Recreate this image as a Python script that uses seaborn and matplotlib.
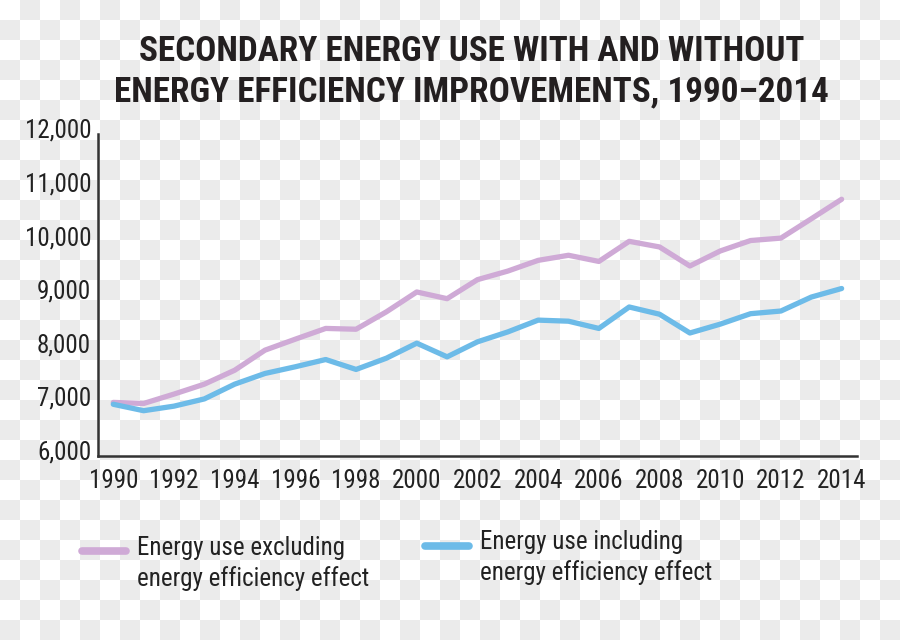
import numpy as np
import pandas as pd
import matplotlib
matplotlib.use("Agg")
import matplotlib.pyplot as plt
import matplotlib.transforms as mtransforms
from matplotlib import font_manager as fm
from matplotlib.legend_handler import HandlerLine2D
from matplotlib.ticker import FuncFormatter
import seaborn as sns

years = list(range(1990, 2015))
excluding = [7000, 6980, 7155, 7340, 7600, 7975, 8180, 8380, 8365, 8690,
             9060, 8935, 9290, 9450, 9650, 9745, 9630, 10005, 9900, 9545,
             9825, 10020, 10065, 10425, 10790]
including = [6965, 6845, 6930, 7065, 7340, 7540, 7665, 7800, 7615, 7825,
             8105, 7850, 8130, 8315, 8535, 8515, 8380, 8780, 8645, 8295,
             8460, 8655, 8705, 8965, 9125]
labels = ["Energy use excluding\nenergy efficiency effect",
          "Energy use including\nenergy efficiency effect"]
colors = ["#cfaad6", "#6dbbe8"]
title = "SECONDARY ENERGY USE WITH AND WITHOUT\nENERGY EFFICIENCY IMPROVEMENTS, 1990\u20132014"

df = pd.DataFrame({
    "year": years * 2,
    "value": excluding + including,
    "series": [labels[0]] * len(years) + [labels[1]] * len(years),
})

# pick a narrow font if one is around
cands = ["Roboto Condensed", "Archivo Narrow", "Barlow Semi Condensed",
         "Liberation Sans Narrow", "Open Sans Condensed", "DejaVu Sans"]
have = {}
for f in fm.fontManager.ttflist:
    have.setdefault(f.name, set()).add(f.weight if isinstance(f.weight, int) else 400)
body_font = next(c for c in cands if c in have)
bold_font = next((c for c in cands if c in have and max(have[c]) >= 700), "DejaVu Sans")

sns.set_style("white")
plt.rcParams['font.family'] = [body_font, 'DejaVu Sans']


class TopLineHandler(HandlerLine2D):
    # put the legend swatch next to the first text line
    def create_artists(self, legend, orig_handle, xdescent, ydescent,
                       width, height, fontsize, trans):
        arts = super().create_artists(legend, orig_handle, xdescent, ydescent,
                                      width, height, fontsize, trans)
        for a in arts:
            a.set_ydata(np.asarray(a.get_ydata()) + 0.5 * fontsize)
        return arts


fig = plt.figure(figsize=(9, 6.4), dpi=100)

# checkerboard background like the reference
yy, xx = np.indices((640, 900))
chk = ((xx // 20 + yy // 20) % 2)
bg = np.where(chk[..., None] == 1, 0.925, 1.0) * np.ones((1, 1, 3))
fig.figimage(bg, 0, 0, zorder=-5)

ax = fig.add_axes([0.109, 0.2875, 0.843, 0.5025])
ax.patch.set_alpha(0)

sns.lineplot(data=df, x="year", y="value", hue="series",
             palette=colors, linewidth=3.8, ax=ax, legend=False)

ax.set_xlim(1989.5, 2014.5)
ax.set_ylim(6000, 12000)
ax.set_xticks(list(range(1990, 2015, 2)))
ax.set_xticks([y + 0.5 for y in range(1990, 2014)], minor=True)
ax.set_yticks(range(6000, 12001, 1000))
ax.yaxis.set_major_formatter(FuncFormatter(lambda v, p: f"{int(v):,}"))

ax.tick_params(axis="x", which="major", length=0, pad=9, labelsize=18, colors="#222222")
ax.tick_params(axis="x", which="minor", direction="in", length=8, width=1.6, color="#333333")
ax.tick_params(axis="y", which="major", direction="in", length=19, width=1.6,
               color="#333333", pad=5, labelsize=18, labelcolor="#222222")

# y labels sit a bit above their ticks in the reference
lift = mtransforms.ScaledTranslation(0, 6 / 100, fig.dpi_scale_trans)
for lbl in ax.get_yticklabels():
    lbl.set_transform(lbl.get_transform() + lift)

for s in ["top", "right"]:
    ax.spines[s].set_visible(False)
for s in ["left", "bottom"]:
    ax.spines[s].set_color("#333333")
    ax.spines[s].set_linewidth(1.8)

ax.set_xlabel("")
ax.set_ylabel("")

fig.text(0.524, 0.946, title, ha="center", va="top", fontsize=25.3,
         fontweight="bold", family=[bold_font, "DejaVu Sans"],
         color="#231f20", linespacing=1.32)

# two legend entries, the second sits a little higher like the reference
for lab, col, anchor in zip(labels, colors, [(0.091, 0.163), (0.472, 0.172)]):
    h = plt.Line2D([], [], color=col, linewidth=5.5)
    leg = fig.legend([h], [lab], loc="upper left", bbox_to_anchor=anchor,
                     frameon=False, fontsize=18, handlelength=1.75,
                     handletextpad=0.45, borderpad=0, borderaxespad=0,
                     labelcolor="#222222",
                     handler_map={plt.Line2D: TopLineHandler()})
    for t in leg.get_texts():
        t.set_linespacing(1.3)

fig.savefig("out.png", dpi=100)
